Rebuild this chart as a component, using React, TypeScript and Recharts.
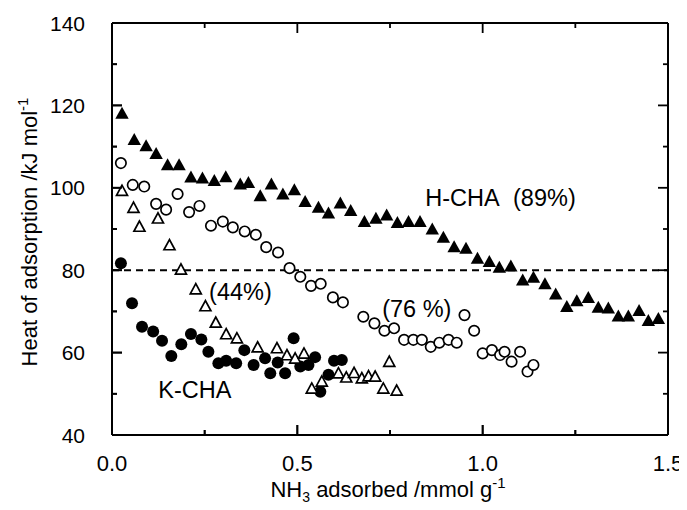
import React from 'react';
import { ScatterChart, Scatter, XAxis, YAxis, ReferenceLine, ReferenceDot } from 'recharts';

// H-CHA (89%) – filled triangles
const hCha89: [number, number][] = [
  [0.027, 118.1], [0.060, 111.7], [0.092, 110.2], [0.119, 108.3], [0.150, 105.6], [0.181, 105.6],
  [0.213, 102.6], [0.244, 102.4], [0.276, 101.8], [0.307, 102.7], [0.346, 100.9], [0.368, 101.3],
  [0.400, 98.1], [0.430, 100.9], [0.461, 98.5], [0.492, 99.5], [0.521, 96.7], [0.557, 95.3],
  [0.584, 93.9], [0.616, 96.3], [0.644, 94.5], [0.681, 91.8], [0.712, 92.6], [0.741, 93.4],
  [0.770, 91.6], [0.800, 91.8], [0.831, 91.8], [0.864, 90.0], [0.894, 88.0], [0.923, 85.7],
  [0.955, 85.3], [0.986, 82.9], [1.018, 82.1], [1.045, 80.7], [1.076, 81.0], [1.108, 77.6],
  [1.137, 78.3], [1.168, 76.7], [1.197, 74.2], [1.227, 71.2], [1.254, 72.6], [1.285, 73.4],
  [1.312, 71.0], [1.339, 70.8], [1.366, 68.9], [1.393, 68.9], [1.422, 70.2], [1.447, 67.8],
  [1.474, 68.3],
];

// (76 %) – open circles
const hCha76: [number, number][] = [
  [0.024, 106.0], [0.056, 100.7], [0.087, 100.3], [0.119, 96.1], [0.146, 94.7], [0.177, 98.5],
  [0.208, 94.1], [0.236, 95.6], [0.267, 90.8], [0.299, 91.8], [0.326, 90.4], [0.358, 89.4],
  [0.388, 88.6], [0.416, 85.6], [0.448, 84.3], [0.479, 80.5], [0.508, 78.4], [0.537, 76.2],
  [0.563, 76.7], [0.596, 73.4], [0.623, 72.2], [0.678, 68.7], [0.708, 67.1], [0.735, 65.3],
  [0.761, 65.9], [0.788, 63.1], [0.813, 63.1], [0.836, 63.1], [0.860, 61.4], [0.883, 62.4],
  [0.908, 63.1], [0.930, 62.4], [0.951, 69.1], [0.977, 65.3], [1.000, 59.8], [1.025, 60.6],
  [1.047, 59.4], [1.059, 60.2], [1.078, 57.8], [1.101, 60.2], [1.121, 55.4], [1.137, 57.0],
];

// (44%) – open triangles
const hCha44: [number, number][] = [
  [0.027, 99.3], [0.058, 95.2], [0.074, 90.6], [0.124, 92.6], [0.155, 86.1], [0.186, 80.2],
  [0.226, 75.4], [0.252, 71.3], [0.280, 67.3], [0.308, 64.5], [0.337, 63.5], [0.393, 61.3],
  [0.445, 61.1], [0.472, 59.4], [0.494, 58.6], [0.518, 59.8], [0.539, 51.3], [0.566, 53.0],
  [0.611, 55.0], [0.632, 54.0], [0.653, 55.1], [0.674, 53.8], [0.692, 54.3], [0.710, 54.2],
  [0.732, 51.3], [0.748, 57.8], [0.768, 50.8],
];

// K-CHA – filled circles
const kCha: [number, number][] = [
  [0.024, 81.7], [0.054, 72.0], [0.081, 66.3], [0.111, 65.1], [0.135, 62.9], [0.160, 59.2],
  [0.187, 62.0], [0.213, 64.5], [0.241, 63.2], [0.260, 60.2], [0.287, 57.4], [0.308, 58.0],
  [0.335, 57.4], [0.357, 60.6], [0.382, 57.0], [0.413, 58.6], [0.427, 55.0], [0.447, 57.6],
  [0.467, 55.0], [0.490, 63.5], [0.508, 56.6], [0.530, 57.0], [0.548, 58.9], [0.562, 50.5],
  [0.584, 54.6], [0.599, 58.0], [0.620, 58.2],
];

// annotation texts and their anchor points (data coordinates, text start / baseline)
const annotations: { text: string; x: number; y: number }[] = [
  { text: 'H-CHA', x: 0.845, y: 95.6 },
  { text: '(89%)', x: 1.082, y: 95.6 },
  { text: '(76 %)', x: 0.729, y: 68.7 },
  { text: '(44%)', x: 0.262, y: 72.8 },
  { text: 'K-CHA', x: 0.125, y: 48.9 },
];

const xTicks = [0, 0.25, 0.5, 0.75, 1.0, 1.25, 1.5];
const yTicks = [40, 50, 60, 70, 80, 90, 100, 110, 120, 130, 140];
const xDomain: [number, number] = [0, 1.5];
const yDomain: [number, number] = [40, 140];
const refValue = 80;

const FONT = '"Liberation Sans", Arial, sans-serif';
const W = 679;
const H = 494;

const toPts = (a: [number, number][]) => a.map(([x, y]) => ({ x, y }));

const isMajorX = (v: number) => Math.abs(v * 2 - Math.round(v * 2)) < 1e-6;
const isMajorY = (v: number) => Math.round(v) % 20 === 0;

// inward tick marks drawn by the axes (path only)
const BottomT = (p: any) => {
  const x = Number(p.x);
  const y = Number(p.y);
  const len = isMajorX(Number(p.payload.value)) ? 10 : 5;
  return <path d={`M${x},${y} L${x},${y - len}`} stroke="#000" strokeWidth={1.8} fill="none" />;
};
const TopT = (p: any) => {
  const x = Number(p.x);
  const y = Number(p.y);
  const len = isMajorX(Number(p.payload.value)) ? 10 : 5;
  return <path d={`M${x},${y} L${x},${y + len}`} stroke="#000" strokeWidth={1.8} fill="none" />;
};
const LeftT = (p: any) => {
  const x = Number(p.x);
  const y = Number(p.y);
  const len = isMajorY(Number(p.payload.value)) ? 10 : 5;
  return <path d={`M${x},${y} L${x + len},${y}`} stroke="#000" strokeWidth={1.8} fill="none" />;
};
const RightT = (p: any) => {
  const x = Number(p.x);
  const y = Number(p.y);
  const len = isMajorY(Number(p.payload.value)) ? 10 : 5;
  return <path d={`M${x},${y} L${x - len},${y}`} stroke="#000" strokeWidth={1.8} fill="none" />;
};

// backup inward ticks at both ends of a reference line
const vTickShape = (len: number) => (p: any) => {
  const x = Number(p.x1 ?? p.x);
  const yTop = Math.min(Number(p.y1), Number(p.y2));
  const yBot = Math.max(Number(p.y1), Number(p.y2));
  return (
    <g>
      <line x1={x} x2={x} y1={yBot} y2={yBot - len} stroke="#000" strokeWidth={1.8} />
      <line x1={x} x2={x} y1={yTop} y2={yTop + len} stroke="#000" strokeWidth={1.8} />
    </g>
  );
};
const hTickShape = (len: number) => (p: any) => {
  const y = Number(p.y1 ?? p.y);
  const xL = Math.min(Number(p.x1), Number(p.x2));
  const xR = Math.max(Number(p.x1), Number(p.x2));
  return (
    <g>
      <line x1={xL} x2={xL + len} y1={y} y2={y} stroke="#000" strokeWidth={1.8} />
      <line x1={xR} x2={xR - len} y1={y} y2={y} stroke="#000" strokeWidth={1.8} />
    </g>
  );
};

const FilledTriangle = (p: any) => {
  const { cx, cy } = p;
  return <polygon points={`${cx},${cy - 6.5} ${cx - 6.7},${cy + 5.5} ${cx + 6.7},${cy + 5.5}`} fill="#000" />;
};
const OpenTriangle = (p: any) => {
  const { cx, cy } = p;
  return (
    <polygon
      points={`${cx},${cy - 5.5} ${cx - 5.5},${cy + 4.7} ${cx + 5.5},${cy + 4.7}`}
      fill="#fff"
      stroke="#000"
      strokeWidth={1.7}
    />
  );
};
const OpenCircle = (p: any) => <circle cx={p.cx} cy={p.cy} r={5.2} fill="#fff" stroke="#000" strokeWidth={1.7} />;
const FilledCircle = (p: any) => <circle cx={p.cx} cy={p.cy} r={6} fill="#000" />;

const ids = { xAxisId: 'b', yAxisId: 'l' };

export default function App() {
  const innerX = xTicks.filter((v) => v > xDomain[0] && v < xDomain[1]);
  const innerY = yTicks.filter((v) => v > yDomain[0] && v < yDomain[1]);
  return (
    <div style={{ width: W, height: H, background: '#fff' }}>
      <ScatterChart width={W} height={H} margin={{ top: 5, right: 9, bottom: 7, left: 0 }}>
        <XAxis xAxisId="b" dataKey="x" type="number" domain={xDomain} ticks={xTicks} interval={0}
          orientation="bottom" height={60} tickSize={0} tickMargin={0} tickLine={false}
          axisLine={{ stroke: '#000', strokeWidth: 2 }} tick={(p: any) => <BottomT {...p} />} />
        <XAxis xAxisId="t" dataKey="x" type="number" domain={xDomain} ticks={xTicks} interval={0}
          orientation="top" height={10} tickSize={0} tickMargin={0} tickLine={false}
          axisLine={{ stroke: '#000', strokeWidth: 2 }} tick={(p: any) => <TopT {...p} />} />
        <YAxis yAxisId="l" dataKey="y" type="number" domain={yDomain} ticks={yTicks} interval={0}
          orientation="left" width={104} tickSize={0} tickMargin={0} tickLine={false}
          axisLine={{ stroke: '#000', strokeWidth: 2 }} tick={(p: any) => <LeftT {...p} />} />
        <YAxis yAxisId="r" dataKey="y" type="number" domain={yDomain} ticks={yTicks} interval={0}
          orientation="right" width={10} tickSize={0} tickMargin={0} tickLine={false}
          axisLine={{ stroke: '#000', strokeWidth: 2 }} tick={(p: any) => <RightT {...p} />} />
        {innerX.map((v) => (
          <ReferenceLine key={`xt${v}`} {...ids} x={v} stroke="none" shape={vTickShape(isMajorX(v) ? 10 : 5)} />
        ))}
        {innerY.map((v) => (
          <ReferenceLine key={`yt${v}`} {...ids} y={v} stroke="none" shape={hTickShape(isMajorY(v) ? 10 : 5)} />
        ))}
        <ReferenceLine {...ids} y={refValue} stroke="#000" strokeWidth={2} strokeDasharray="7 5" />
        <Scatter {...ids} data={toPts(kCha)} shape={FilledCircle} isAnimationActive={false} />
        <Scatter {...ids} data={toPts(hCha44)} shape={OpenTriangle} isAnimationActive={false} />
        <Scatter {...ids} data={toPts(hCha76)} shape={OpenCircle} isAnimationActive={false} />
        <Scatter {...ids} data={toPts(hCha89)} shape={FilledTriangle} isAnimationActive={false} />
        {/* tick labels */}
        {xTicks.filter(isMajorX).map((v) => (
          <ReferenceDot key={`xl${v}`} {...ids} x={v} y={yDomain[0]} r={0} ifOverflow="visible"
            shape={(p: any) => (
              <text x={p.cx} y={p.cy + 36} textAnchor="middle" fontSize={22} fontFamily={FONT} fill="#000">
                {v.toFixed(1)}
              </text>
            )} />
        ))}
        {yTicks.filter(isMajorY).map((v) => (
          <ReferenceDot key={`yl${v}`} {...ids} x={xDomain[0]} y={v} r={0} ifOverflow="visible"
            shape={(p: any) => (
              <text x={p.cx - 27} y={p.cy + 7.5} textAnchor="end" fontSize={21} fontFamily={FONT} fill="#000">
                {v}
              </text>
            )} />
        ))}
        {/* axis titles */}
        <ReferenceDot {...ids} x={(xDomain[0] + xDomain[1]) / 2} y={yDomain[0]} r={0} ifOverflow="visible"
          shape={(p: any) => (
            <text x={p.cx - 2} y={p.cy + 62} textAnchor="middle" fontSize={22} fontFamily={FONT} fill="#000">
              NH<tspan fontSize={14} dy={5}>3</tspan>
              <tspan dy={-5}> adsorbed /mmol g</tspan>
              <tspan fontSize={15} dy={-9}>-1</tspan>
            </text>
          )} />
        <ReferenceDot {...ids} x={xDomain[0]} y={(yDomain[0] + yDomain[1]) / 2} r={0} ifOverflow="visible"
          shape={(p: any) => {
            const x = p.cx - 75.5;
            const y = p.cy + 3;
            return (
              <text x={x} y={y} textAnchor="middle" fontSize={22} fontFamily={FONT} fill="#000" transform={`rotate(-90 ${x} ${y})`}>
                Heat of adsorption /kJ mol<tspan fontSize={15} dy={-9}>-1</tspan>
              </text>
            );
          }} />
        {/* annotations */}
        {annotations.map((a) => (
          <ReferenceDot key={a.text} {...ids} x={a.x} y={a.y} r={0}
            shape={(p: any) => (
              <text x={p.cx} y={p.cy} fontSize={23.5} fontFamily={FONT} fill="#000">
                {a.text}
              </text>
            )} />
        ))}
      </ScatterChart>
    </div>
  );
}
